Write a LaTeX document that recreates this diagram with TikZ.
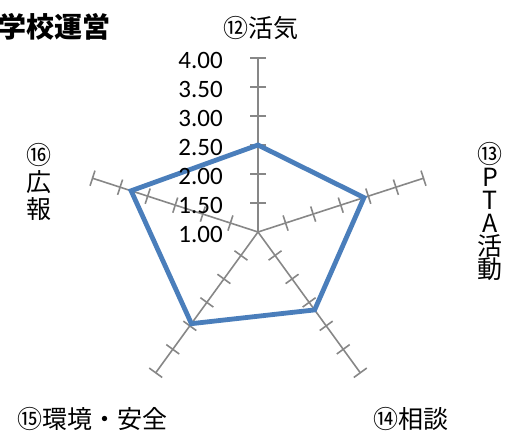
\documentclass[tikz,border=0pt]{standalone}
\usepackage{fontspec}
\setmainfont{Carlito}
\newfontfamily\jpfont{Noto Sans CJK JP}
\usepackage{tikz}
\usetikzlibrary{positioning}

\definecolor{chartblue}{HTML}{4A7EBB}
\tikzset{
	axisline/.style={draw=black!47, line width=1.6pt},
	scoreline/.style={draw=chartblue, line width=4.8pt},
	numlabel/.style={font=\fontsize{25}{25}\selectfont, anchor=east, inner sep=0pt},
	catlabel/.style={font=\jpfont\fontsize{25}{25}\selectfont, inner sep=0pt, align=center},
	titlelabel/.style={font=\jpfont\bfseries\fontsize{28}{28}\selectfont, inner sep=0pt, anchor=east},
}

\begin{document}
\begin{tikzpicture}[x=1pt,y=1pt]
	\useasboundingbox (0,0) rectangle (518,433);
	%% center of the chart
	\coordinate (o) at (258,201);
	% axes and ticks every 0.50
	\foreach \a/\n in {90/12,18/13,-54/14,-126/15,162/16}{
		\draw[axisline] (o) -- ++(\a:174) coordinate (e\n);
		\foreach \r in {29,58,...,174}
			\draw[axisline,shift={(o)},rotate=\a] (\r,-8) -- (\r,8);
	}
	% scores
	\path (o) ++(90:87) coordinate (s12);
	\path (o) ++(18:111.4) coordinate (s13);
	\path (o) ++(-54:96.3) coordinate (s14);
	\path (o) ++(-126:113.3) coordinate (s15);
	\path (o) ++(162:133.4) coordinate (s16);
	\draw[scoreline] (s12) -- (s13) -- (s14) -- (s15) -- (s16) -- cycle;
	% scale labels
	\foreach \v/\r in {1.00/0,1.50/29,2.00/58,2.50/87,3.00/116,3.50/145,4.00/174}
		\node[numlabel] (n\r) at ([shift={(-35,\r-2.5)}]o) {\v};
	%% category labels
	\node[titlelabel] (title) at (111,406) {学校運営};
	\node[catlabel] (c12) at (261,405) {⑫活気};
	\node[catlabel, font=\jpfont\fontsize{25}{23}\selectfont] (c13) at (490,222) {⑬\\P\\T\\A\\活\\動};
	\node[catlabel] (c14) at (411,14) {⑭相談};
	\node[catlabel] (c15) at (92.5,14) {⑮環境・安全};
	\node[catlabel, font=\jpfont\fontsize{25}{27}\selectfont] (c16) at (39,251) {⑯\\広\\報};
\end{tikzpicture}
\end{document}
